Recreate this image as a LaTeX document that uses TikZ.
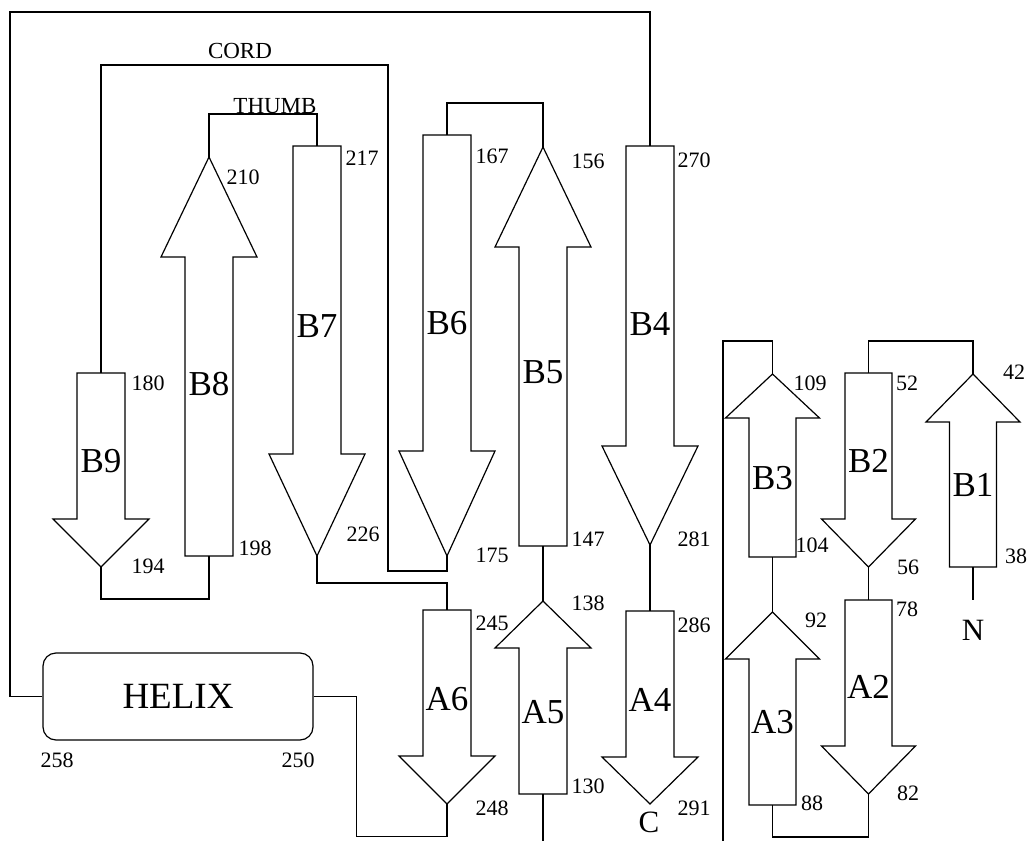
\documentclass[tikz,border=0pt]{standalone}
\usepackage{fontspec}
\setmainfont{Liberation Serif}
\tikzset{
  strand/.style={draw,line width=0.6pt,line join=miter},
  link/.style={line width=0.6pt},
  resnum/.style={font=\fontsize{11}{11}\selectfont,inner sep=0pt},
  strandlbl/.style={font=\fontsize{17.5}{17.5}\selectfont,inner sep=0pt},
  looplbl/.style={font=\fontsize{11.5}{11.5}\selectfont,inner sep=0pt},
  endlbl/.style={font=\fontsize{15.5}{15.5}\selectfont,inner sep=0pt},
}
% half widths of shaft and head
\newcommand{\sw}{24}
\newcommand{\hw}{48}
% up strand: name, x, tip y, head base y, bottom y, label y
\newcommand{\upstrand}[6]{%
  \draw[strand] (#2-\hw,#4) -- (#2,#3) -- (#2+\hw,#4) -- (#2+\sw,#4) -- (#2+\sw,#5)
    -- (#2-\sw,#5) -- (#2-\sw,#4) -- cycle;
  \coordinate (#1-top) at (#2,#3);
  \coordinate (#1-bot) at (#2,#5);
  \node[strandlbl] (#1) at (#2,#6) {#1};}
% down strand: name, x, top y, head base y, tip y, label y
\newcommand{\downstrand}[6]{%
  \draw[strand] (#2-\sw,#3) -- (#2+\sw,#3) -- (#2+\sw,#4) -- (#2+\hw,#4) -- (#2,#5)
    -- (#2-\hw,#4) -- (#2-\sw,#4) -- cycle;
  \coordinate (#1-top) at (#2,#3);
  \coordinate (#1-bot) at (#2,#5);
  \node[strandlbl] (#1) at (#2,#6) {#1};}
\begin{document}
\begin{tikzpicture}[x=0.5pt,y=-0.5pt]
  \useasboundingbox (0,0) rectangle (1029,841);
  % sheet B, left part
  \downstrand{B9}{101}{373}{519}{567}{461}
  \upstrand{B8}{209}{157}{257}{556}{384}
  \downstrand{B7}{317}{146}{454}{556}{326}
  \downstrand{B6}{447}{135}{451}{556}{323}
  \upstrand{B5}{543}{147}{247}{546}{372}
  \downstrand{B4}{650}{146}{446}{545}{324}
  % sheet A, left part
  \downstrand{A6}{447}{610}{756}{804}{699}
  \upstrand{A5}{543}{601}{648}{794}{712}
  \downstrand{A4}{650}{611}{757}{804}{700}
  % right group (a little narrower)
  \renewcommand{\sw}{23.5}
  \renewcommand{\hw}{47}
  \upstrand{B3}{772.5}{374}{418}{557}{478}
  \downstrand{B2}{868.5}{373}{519}{567}{461}
  \upstrand{B1}{973}{374}{422}{567}{485}
  \upstrand{A3}{772.5}{612}{659}{805}{722}
  \downstrand{A2}{868.5}{600}{746}{794}{687}
  % helix
  \node[draw,line width=0.6pt,rounded corners=6.5pt,minimum width=135pt,minimum height=43.5pt,
    inner sep=0pt,font=\fontsize{18.5}{18.5}\selectfont] (helix) at (178,696.5) {HELIX};
  % free ends
  \coordinate (frameTL) at (10,12);
  \coordinate (cordR) at (388,65);
  \coordinate (a5end) at (543,841);
  \coordinate (rgBot) at (723,841);
  \coordinate (nEnd) at (973,600);
  % connections
  \draw[link] (B4-top) |- (frameTL) |- (helix.west);
  \draw[link] (B9-top) |- (cordR) -- (388,571) -| (B6-bot);
  \draw[link] (B8-top) -- ++(0,-43) -| (B7-top);
  \draw[link] (B9-bot) |- ++(108,32) -- (B8-bot);
  \draw[link] (B7-bot) -- ++(0,27) -| (A6-top);
  \draw[link] (B6-top) -- ++(0,-32) -| (B5-top);
  \draw[link] (B5-bot) -- (A5-top);
  \draw[link] (A5-bot) -- (a5end);
  \draw[link] (B4-bot) -- (A4-top);
  \draw[link] (helix.east) -| ++(43,140) -| (A6-bot);
  \draw[link] (B3-top) -- ++(0,-33) -| (rgBot);
  \draw[link] (B3-bot) -- (A3-top);
  \draw[link] (A3-bot) -- ++(0,32) -| (A2-bot);
  \draw[link] (B2-top) -- ++(0,-32) -| (B1-top);
  \draw[link] (B2-bot) -- (A2-top);
  \draw[link] (B1-bot) -- (nEnd);
  % loop and end labels
  \node[looplbl] (cord) at (240,51) {CORD};
  \node[looplbl,anchor=base] (thumb) at (275,113) {THUMB};
  \node[endlbl] (cterm) at (649,822) {C};
  \node[endlbl] (nterm) at (973,630) {N};
  % residue numbers
  \foreach \n/\x/\y in {210/243/177, 217/362/158, 167/492/156, 156/588/161, 270/694/160,
      180/148/383, 194/148/566, 198/255/548, 226/363/534, 175/492/555, 147/588/539,
      281/694/539, 109/810/383, 104/812/545, 52/907/383, 56/908/567, 42/1014/372,
      38/1016/556, 245/492/623, 138/588/603, 286/694/625, 130/588/786, 291/694/808,
      248/492/808, 92/816/620, 78/907/609, 88/812/803, 82/908/793, 258/57/760, 250/298/760}
    \node[resnum] (n\n) at (\x,\y) {\n};
\end{tikzpicture}
\end{document}
